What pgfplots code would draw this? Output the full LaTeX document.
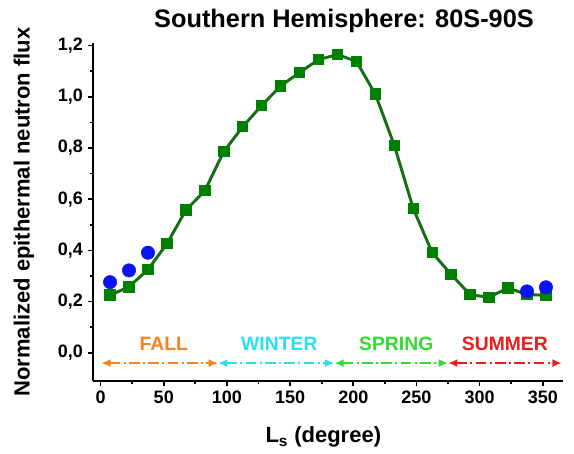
\documentclass[border=0pt]{standalone}
\usepackage{fontspec}
\setmainfont{Liberation Sans}
\usepackage{pgfplots}
\pgfplotsset{compat=1.18}
\usetikzlibrary{arrows.meta}

\definecolor{sqgreen}{RGB}{0,128,0}
\definecolor{linegreen}{RGB}{20,110,20}
\definecolor{dotblue}{RGB}{10,20,240}
\definecolor{fallc}{RGB}{245,130,30}
\definecolor{winterc}{RGB}{40,225,240}
\definecolor{springc}{RGB}{50,220,50}
\definecolor{summerc}{RGB}{235,30,30}

\tikzset{
  season/.style={line width=2pt, dash pattern=on 8pt off 2.5pt on 1.5pt off 2.5pt, {Latex[length=7pt,width=6pt]}-{Latex[length=7pt,width=6pt]}},
  seasonlabel/.style={font=\fontsize{14.5}{16}\selectfont\bfseries},
}

\begin{document}
\begin{tikzpicture}
\path[use as bounding box] (-69.75pt,-54pt) rectangle (360.75pt,285.75pt);
\begin{axis}[
  scale only axis,
  width=352.5pt, height=253.5pt,
  xmin=-6, xmax=366, ymin=-0.11, ymax=1.21,
  axis lines=left,
  axis line style={-, line width=1.6pt},
  every tick/.style={black, line width=1.3pt},
  tick align=outside,
  major tick length=4pt, minor tick length=2.5pt,
  xtick={0,50,...,350}, minor xtick={25,75,...,375},
  ytick={0,0.2,...,1.2}, minor ytick={0.1,0.3,...,1.1},
  tick label style={font=\fontsize{13.5}{15}\selectfont\bfseries},
  /pgf/number format/assume math mode=true,
  yticklabel style={/pgf/number format/.cd, use comma, fixed, fixed zerofill, precision=1},
  xlabel={L\textsubscript{s} (degree)},
  ylabel={Normalized epithermal neutron flux},
  label style={font=\fontsize{16.5}{18}\selectfont\bfseries},
  xlabel style={at={(axis description cs:0.49,-0.166)}, anchor=center},
  ylabel style={at={(axis description cs:-0.147,0.5)}, anchor=center},
  title={Southern Hemisphere: 80S-90S},
  title style={at={(axis description cs:0.534,1.042)}, anchor=center, font=\fontsize{19}{21}\selectfont\bfseries},
  clip=false,
]
% season arrows
\addplot[fallc, season] coordinates {(0.5,-0.04) (93,-0.04)};
\addplot[winterc, season] coordinates {(93,-0.04) (185,-0.04)};
\addplot[springc, season] coordinates {(185,-0.04) (275,-0.04)};
\addplot[summerc, season] coordinates {(275,-0.04) (365,-0.04)};
\node[fallc, seasonlabel] at (axis cs:50,0.035) {FALL};
\node[winterc, seasonlabel] at (axis cs:141.5,0.035) {WINTER};
\node[springc, seasonlabel] at (axis cs:234,0.035) {SPRING};
\node[summerc, seasonlabel] at (axis cs:320,0.035) {SUMMER};
% model curve
\addplot[linegreen, line width=2.2pt, mark=square*, mark size=3.2pt, mark options={fill=sqgreen, draw=sqgreen, solid}] coordinates {
(7.5,0.225) (22.5,0.258) (37.5,0.325) (52.5,0.426) (67.5,0.557) (82.5,0.633)
(97.5,0.786) (112.5,0.883) (127.5,0.966) (142.5,1.042) (157.5,1.095) (172.5,1.145)
(187.5,1.165) (202.5,1.138) (217.5,1.010) (232.5,0.810) (247.5,0.563) (262.5,0.391)
(277.5,0.306) (292.5,0.227) (307.5,0.217) (322.5,0.254) (337.5,0.227) (352.5,0.225)
};
% observations
\addplot[only marks, mark=*, mark size=5pt, mark options={fill=dotblue, draw=dotblue}] coordinates {
(7.5,0.276) (22.5,0.322) (37.5,0.391) (337.5,0.240) (352.5,0.256)
};
\end{axis}
\end{tikzpicture}
\end{document}
